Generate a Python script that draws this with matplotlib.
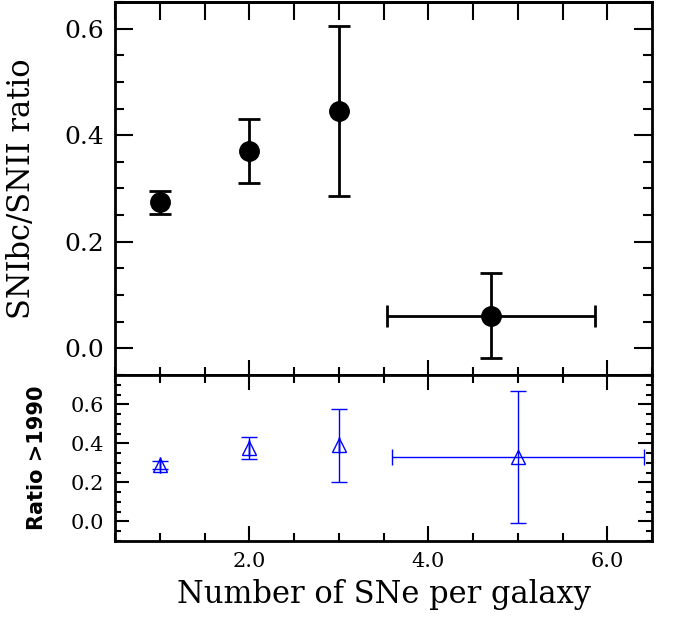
import matplotlib
matplotlib.use("Agg")
import matplotlib.pyplot as plt
from matplotlib.ticker import MultipleLocator, FuncFormatter, NullFormatter

# upper panel: all SNe
n_sne = [1.0, 2.0, 3.0, 4.70]
n_sne_err = [0.0, 0.0, 0.0, 1.16]
ratio = [0.274, 0.370, 0.445, 0.061]
ratio_err = [0.021, 0.060, 0.159, 0.080]

# lower panel: SNe discovered after 1990
n_sne_90 = [1.0, 2.0, 3.0, 5.0]
n_sne_90_err = [0.0, 0.0, 0.0, 1.41]
ratio_90 = [0.29, 0.375, 0.39, 0.33]
ratio_90_err = [0.021, 0.056, 0.187, 0.337]

fig = plt.figure(figsize=(6.75, 6.17), dpi=100)
ax1 = fig.add_axes([0.1704, 0.3922, 0.7956, 0.6046])
ax2 = fig.add_axes([0.1704, 0.1232, 0.7956, 0.2690], sharex=ax1)

ax1.errorbar(n_sne, ratio, yerr=ratio_err, xerr=n_sne_err, fmt='o', color='black',
             ms=14, elinewidth=2, capsize=8, capthick=2)
ax2.errorbar(n_sne_90, ratio_90, yerr=ratio_90_err, xerr=n_sne_90_err, fmt='^', color='blue',
             mfc='none', mec='blue', ms=10, mew=1, elinewidth=1, capsize=6, capthick=1)

ax1.set_xlim(0.5, 6.5)
ax1.set_ylim(-0.05, 0.65)
ax2.set_ylim(-0.1, 0.75)

fmt1 = FuncFormatter(lambda v, p: f"{v:.1f}")
for ax in (ax1, ax2):
    for s in ax.spines.values():
        s.set_linewidth(2)
    ax.xaxis.set_major_locator(MultipleLocator(2))
    ax.xaxis.set_minor_locator(MultipleLocator(0.5))
    ax.yaxis.set_major_locator(MultipleLocator(0.2))
    ax.yaxis.set_minor_locator(MultipleLocator(0.05))
    ax.yaxis.set_major_formatter(fmt1)
    ax.tick_params(which='both', direction='in', top=True, right=True, width=1.5)
    ax.tick_params(axis='x', which='major', length=11)
    ax.tick_params(axis='x', which='minor', length=6)

# top axis of the upper panel: every half unit, all long ticks
ax1.tick_params(axis='x', which='both', top=False)
top = ax1.secondary_xaxis('top')
top.xaxis.set_major_locator(MultipleLocator(0.5))
top.xaxis.set_major_formatter(NullFormatter())
top.tick_params(direction='in', length=13, width=1.5)
top.spines['top'].set_linewidth(2)

ax1.tick_params(axis='y', which='major', length=13)
ax1.tick_params(axis='y', which='minor', length=6.5)
ax1.tick_params(axis='x', labelbottom=False)
ax1.tick_params(axis='y', labelsize=18, pad=8)

ax2.tick_params(axis='y', which='major', length=10)
ax2.tick_params(axis='y', which='minor', length=4.5)
ax2.tick_params(axis='both', labelsize=15, pad=8)
ax2.xaxis.set_major_formatter(fmt1)

for t in ax1.get_yticklabels() + ax2.get_yticklabels() + ax2.get_xticklabels():
    t.set_family('DejaVu Serif')

ax1.set_ylabel("SNIbc/SNII ratio", fontsize=22, family='DejaVu Serif')
ax2.set_ylabel("Ratio >1990", fontsize=15, fontweight='bold')
ax2.set_xlabel("Number of SNe per galaxy", fontsize=22, family='DejaVu Serif', labelpad=6)
ax1.yaxis.set_label_coords(-0.145, 0.5)
ax2.yaxis.set_label_coords(-0.127, 0.5)

fig.savefig("out.png", dpi=100)
